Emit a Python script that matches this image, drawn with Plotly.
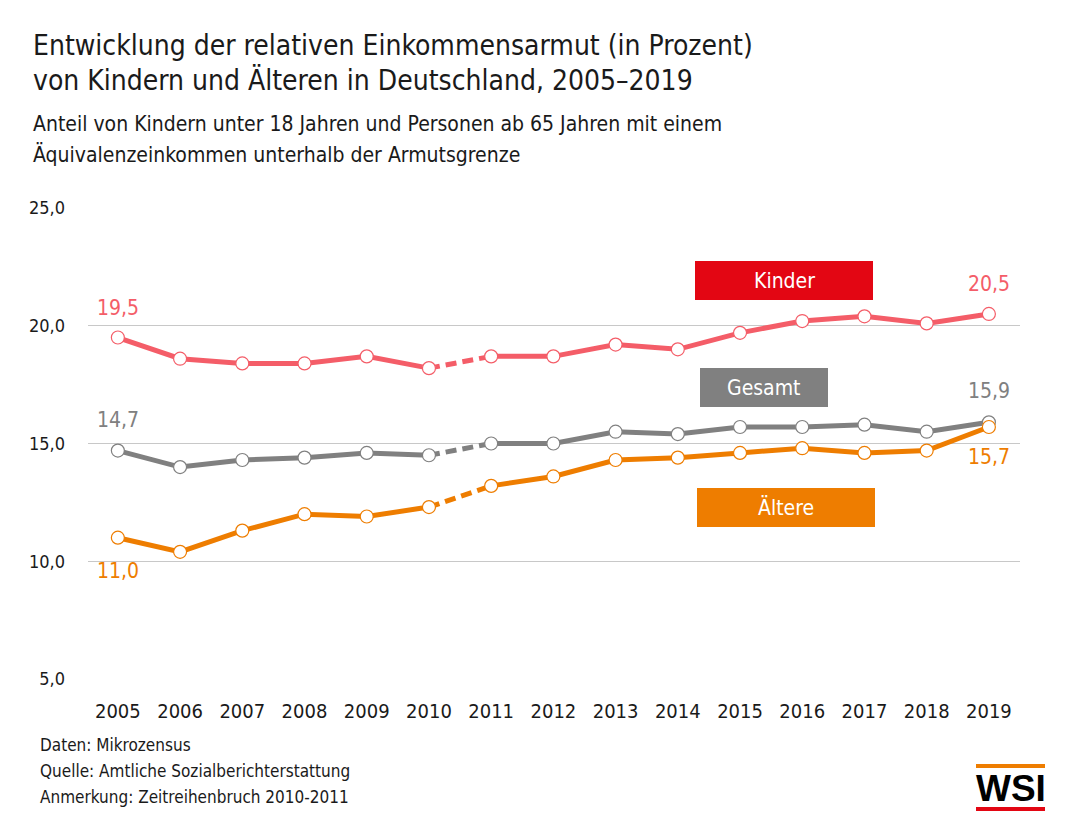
import plotly.graph_objects as go

years = ["2005","2006","2007","2008","2009","2010","2011","2012","2013","2014","2015","2016","2017","2018","2019"]
kinder = [19.5,18.6,18.4,18.4,18.7,18.2,18.7,18.7,19.2,19.0,19.7,20.2,20.4,20.1,20.5]
gesamt = [14.7,14.0,14.3,14.4,14.6,14.5,15.0,15.0,15.5,15.4,15.7,15.7,15.8,15.5,15.9]
aeltere = [11.0,10.4,11.3,12.0,11.9,12.3,13.2,13.6,14.3,14.4,14.6,14.8,14.6,14.7,15.7]
y_ticks = [5, 10, 15, 20, 25]

FONT = "Liberation Sans Narrow, DejaVu Sans Condensed, Arial Narrow, sans-serif"
C_K = "#F45D68"
C_G = "#808080"
C_A = "#EE7D00"

# plot area in screen pixels
PL, PR, PT, PB = 88, 1020, 208, 679
PW, PH = PR - PL, PB - PT

fig = go.Figure()

def add_series(vals, color):
    fig.add_trace(go.Scatter(x=years[:6], y=vals[:6], mode="lines",
                             line=dict(color=color, width=5), showlegend=False, hoverinfo="skip"))
    fig.add_trace(go.Scatter(x=years[5:7], y=vals[5:7], mode="lines",
                             line=dict(color=color, width=5, dash="11px,6px"), showlegend=False, hoverinfo="skip"))
    fig.add_trace(go.Scatter(x=years[6:], y=vals[6:], mode="lines",
                             line=dict(color=color, width=5), showlegend=False, hoverinfo="skip"))
    fig.add_trace(go.Scatter(x=years, y=vals, mode="markers",
                             marker=dict(size=13, color="white", line=dict(color=color, width=1.2)),
                             showlegend=False))

add_series(kinder, C_K)
add_series(gesamt, C_G)
add_series(aeltere, C_A)

annotations = []
def fmt(v):
    return f"{v:.1f}".replace(".", ",")

def val_label(i, y, color, yshift):
    annotations.append(dict(x=i, y=y, xref="x", yref="y", text=fmt(y), showarrow=False,
                            yshift=yshift, font=dict(family=FONT, size=21, color=color)))

n = len(years) - 1
val_label(0, kinder[0], C_K, 30)
val_label(0, gesamt[0], C_G, 31)
val_label(0, aeltere[0], C_A, -33)
val_label(n, kinder[n], C_K, 30)
val_label(n, gesamt[n], C_G, 31)
val_label(n, aeltere[n], C_A, -30)

def px(x):
    return (x - PL) / PW

def py(y):
    return (PB - y) / PH

shapes = []
def legend_box(x0, x1, y0, y1, color, text):
    shapes.append(dict(type="rect", xref="paper", yref="paper",
                       x0=px(x0), x1=px(x1), y0=py(y1), y1=py(y0),
                       fillcolor=color, line=dict(width=0), layer="below"))
    annotations.append(dict(x=px((x0 + x1) / 2), y=py((y0 + y1) / 2), xref="paper", yref="paper",
                            text=text, showarrow=False, xanchor="center", yanchor="middle",
                            font=dict(family=FONT, size=21, color="white")))

legend_box(695, 873, 261, 300, "#E30613", "Kinder")
legend_box(700, 828, 368, 407, C_G, "Gesamt")
legend_box(697, 875, 488, 527, C_A, "Ältere")

def px_text(x, y, text, size, color="#1a1a1a"):
    annotations.append(dict(x=px(x), y=py(y), xref="paper", yref="paper", text=text,
                            showarrow=False, xanchor="left", yanchor="middle",
                            font=dict(family=FONT, size=size, color=color)))

px_text(31, 45, "Entwicklung der relativen Einkommensarmut (in Prozent)", 28)
px_text(31, 80, "von Kindern und Älteren in Deutschland, 2005–2019", 28)
px_text(31, 124, "Anteil von Kindern unter 18 Jahren und Personen ab 65 Jahren mit einem", 21)
px_text(31, 154, "Äquivalenzeinkommen unterhalb der Armutsgrenze", 21)
px_text(38, 745, "Daten: Mikrozensus", 17)
px_text(38, 771, "Quelle: Amtliche Sozialberichterstattung", 17)
px_text(38, 797, "Anmerkung: Zeitreihenbruch 2010-2011", 17)

# WSI logo
shapes.append(dict(type="rect", xref="paper", yref="paper", x0=px(976), x1=px(1045),
                   y0=py(768), y1=py(764), fillcolor="#EE7D00", line=dict(width=0)))
shapes.append(dict(type="rect", xref="paper", yref="paper", x0=px(976), x1=px(1045),
                   y0=py(811), y1=py(807), fillcolor="#E30613", line=dict(width=0)))
annotations.append(dict(x=px(1010.5), y=py(788), xref="paper", yref="paper", text="<b>WSI</b>",
                        showarrow=False, xanchor="center", yanchor="middle",
                        font=dict(family="Liberation Sans, Arial, sans-serif", size=37, color="black")))

# page body adds an 8px offset; margins compensate
fig.update_layout(
    width=1080, height=824,
    margin=dict(l=PL - 8, r=1080 - (PR - 8), t=PT - 8, b=824 - (PB - 8)),
    paper_bgcolor="white", plot_bgcolor="white",
    separators=",.",
    font=dict(family=FONT, color="#1a1a1a"),
    xaxis=dict(type="category", range=[-0.48, 14.5], showgrid=False, zeroline=False,
               showline=False, ticks="", tickfont=dict(family=FONT, size=20, color="#1a1a1a"),
               ticklabelstandoff=18),
    yaxis=dict(range=[5, 25], tickvals=y_ticks, tickformat=".1f", showgrid=True,
               gridcolor="#c8c8c8", gridwidth=1, zeroline=False, showline=False, ticks="",
               tickfont=dict(family=FONT, size=18, color="#1a1a1a"), ticklabelstandoff=22),
    annotations=annotations,
    shapes=shapes,
)

fig.write_html("out.html")
